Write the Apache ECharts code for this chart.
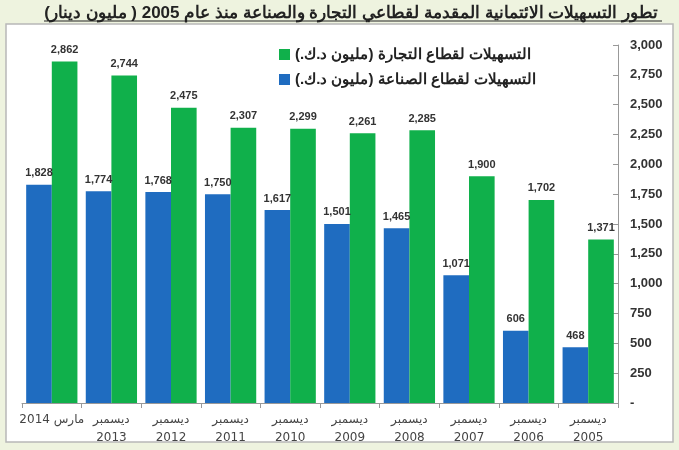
<!DOCTYPE html>
<html>
<head>
<meta charset="utf-8">
<script src="https://cdn.jsdelivr.net/npm/echarts@6/dist/echarts.min.js"></script>
<style>
  html, body { margin: 0; padding: 0; background: #eef3df; }
  #chart { width: 679px; height: 450px; }
</style>
</head>
<body>
<div id="chart"></div>
<script>
// categories, left to right as in the picture
const periods = ['مارس 2014', 'ديسمبر\n2013', 'ديسمبر\n2012', 'ديسمبر\n2011', 'ديسمبر\n2010',
  'ديسمبر\n2009', 'ديسمبر\n2008', 'ديسمبر\n2007', 'ديسمبر\n2006', 'ديسمبر\n2005'];
const industry = [1828, 1774, 1768, 1750, 1617, 1501, 1465, 1071, 606, 468];
const trade = [2862, 2744, 2475, 2307, 2299, 2261, 2285, 1900, 1702, 1371];
const yTicks = { min: 0, max: 3000, interval: 250 };

const titleText = 'تطور التسهيلات الائتمانية المقدمة لقطاعي التجارة والصناعة منذ عام 2005 ( مليون دينار)';
const tradeName = 'التسهيلات لقطاع التجارة (مليون د.ك.)';
const industryName = 'التسهيلات لقطاع الصناعة (مليون د.ك.)';

const fmt = v => v.toLocaleString('en-US');

const chart = echarts.init(document.getElementById('chart'));

const labelStyle = {
  show: true,
  position: 'top',
  distance: 6,
  color: '#333333',
  fontWeight: 'bold',
  fontSize: 11,
  fontFamily: 'Liberation Sans, Arial, sans-serif',
  formatter: p => fmt(p.value)
};

chart.setOption({
  backgroundColor: '#eef3df',
  animation: false,
  graphic: [{
    type: 'rect',
    shape: { x: 6, y: 24, width: 667, height: 418 },
    style: { fill: '#ffffff', stroke: '#b8b8b8', lineWidth: 1.5 },
    z: -10
  }, {
    type: 'line',
    shape: { x1: 44, y1: 21, x2: 662, y2: 21 },
    style: { stroke: '#222', lineWidth: 1 }
  }],
  title: {
    text: titleText,
    right: 16,
    top: 0,
    textStyle: {
      color: '#222222',
      fontSize: 17,
      fontWeight: 'bold',
      fontFamily: 'Liberation Sans, Arial, sans-serif'
    }
  },
  legend: {
    orient: 'vertical',
    left: 274,
    top: 42,
    icon: 'rect',
    itemWidth: 11,
    itemHeight: 11,
    itemGap: 10,
    data: [tradeName, industryName],
    textStyle: {
      color: '#222222',
      fontSize: 15,
      fontWeight: 'bold',
      fontFamily: 'Liberation Sans, Arial, sans-serif'
    }
  },
  grid: { left: 22, right: 61, top: 45, bottom: 47 },
  xAxis: {
    type: 'category',
    data: periods,
    axisLine: { lineStyle: { color: '#999999' } },
    axisTick: { show: true, lineStyle: { color: '#999999' } },
    axisLabel: {
      interval: 0,
      color: '#444444',
      fontSize: 12,
      lineHeight: 18,
      margin: 8,
      fontFamily: 'DejaVu Sans, sans-serif'
    }
  },
  yAxis: {
    type: 'value',
    position: 'right',
    min: yTicks.min,
    max: yTicks.max,
    interval: yTicks.interval,
    splitLine: { show: false },
    axisLine: { show: true, lineStyle: { color: '#999999' } },
    axisTick: { show: true, inside: true, length: 5, lineStyle: { color: '#999999' } },
    axisLabel: {
      color: '#333333',
      fontSize: 13,
      fontWeight: 'bold',
      margin: 12,
      fontFamily: 'Liberation Sans, Arial, sans-serif',
      formatter: v => v === 0 ? '-' : fmt(v)
    }
  },
  series: [{
    name: industryName,
    type: 'bar',
    data: industry,
    barGap: '0%',
    barCategoryGap: '14%',
    itemStyle: { color: '#1f6cc0' },
    label: labelStyle
  }, {
    name: tradeName,
    type: 'bar',
    data: trade,
    itemStyle: { color: '#10b04b' },
    label: labelStyle
  }]
});
</script>
</body>
</html>
